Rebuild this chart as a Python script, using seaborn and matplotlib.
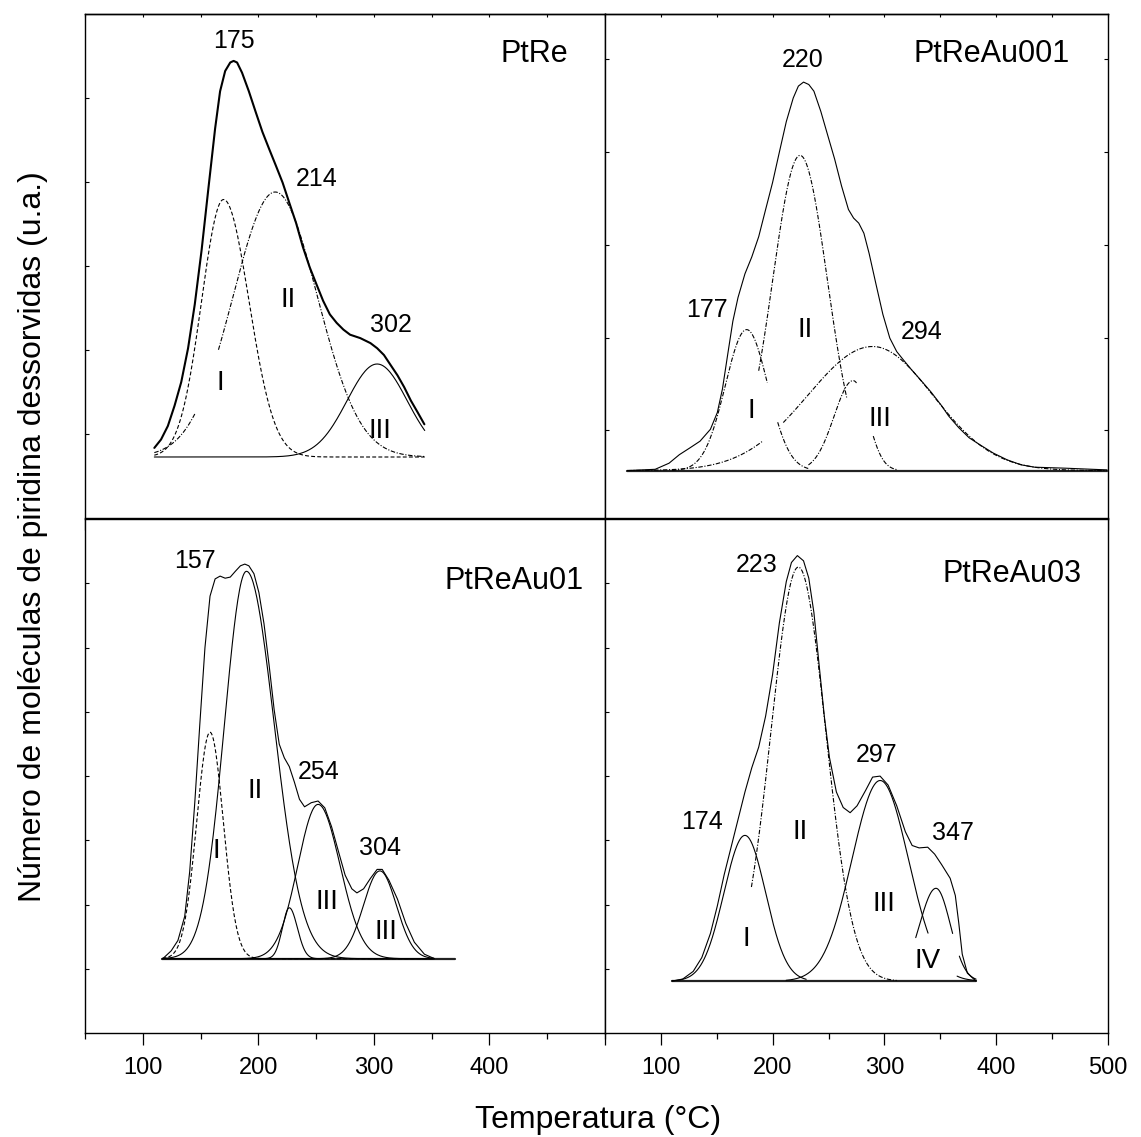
import numpy as np
import matplotlib
matplotlib.use("Agg")
import matplotlib.pyplot as plt
import seaborn as sns
from matplotlib.ticker import FixedLocator

# ---------------- data (temperature in °C, signal in arbitrary units) ----------------
temp_major_ticks = [100, 200, 300, 400, 500]
temp_minor_ticks = [50, 150, 250, 350, 450]
left_tick_labels = ["100", "200", "300", "400", ""]
right_tick_labels = ["100", "200", "300", "400", "500"]

# PtRe
ptre_temp = [110.0, 115.8, 121.7, 127.5, 133.3, 139.2, 145.0, 150.9, 156.7, 162.6, 166.9,
             171.3, 175.7, 178.6, 181.6, 185.9, 191.8, 197.6, 203.5, 209.3, 215.2, 221.0,
             226.8, 232.7, 238.5, 244.4, 250.2, 256.1, 261.9, 267.8, 273.6, 279.4, 288.2,
             297.0, 302.8, 308.7, 314.5, 320.4, 326.2, 332.0, 337.9, 343.7]
ptre_signal = [9.1, 17.5, 31.0, 51.3, 75.0, 108.8, 152.7, 206.8, 267.7, 328.5, 365.7,
               386.0, 394.5, 396.1, 394.5, 384.3, 365.7, 345.4, 325.2, 308.2, 291.3, 274.4,
               254.2, 233.9, 210.2, 189.9, 173.0, 156.1, 142.6, 134.1, 127.4, 122.3, 118.9,
               113.9, 108.8, 102.0, 91.9, 81.7, 69.9, 56.4, 44.6, 32.7]
ptre_peak_center = [169.9, 214.6, 302.8]
ptre_peak_height = [257.5, 265.0, 93.0]
ptre_peak_sigma_left = [19.0, 36.5, 26.0]
ptre_peak_sigma_right = [22.0, 36.5, 26.0]
ptre_peak_span = [[(110, 344)], [(110, 145), (165.5, 344)], [(110, 344)]]

# PtReAu001
au001_temp = [70.2, 94.9, 107.3, 116.5, 125.8, 135.0, 144.3, 150.5, 155.1, 159.7, 164.4,
              169.0, 175.2, 181.3, 187.5, 193.7, 199.9, 206.0, 212.2, 218.4, 223.0, 227.6,
              232.3, 236.9, 243.1, 249.2, 255.4, 261.6, 267.8, 272.4, 277.0, 281.6, 286.3,
              292.4, 298.6, 304.8, 311.0, 317.1, 323.3, 332.6, 341.8, 351.1, 357.3, 366.5,
              375.8, 385.0, 397.4, 409.7, 422.1, 434.4, 462.2, 499.2]
au001_signal = [0.0, 1.3, 7.4, 15.9, 22.6, 29.4, 41.3, 58.1, 81.8, 115.6, 149.5,
                173.1, 196.8, 213.6, 233.9, 261.1, 288.0, 318.5, 349.0, 372.6, 384.5, 388.5,
                386.1, 379.4, 359.1, 335.5, 311.7, 284.7, 261.1, 252.5, 247.5, 237.4, 217.1,
                186.6, 156.2, 132.5, 119.0, 110.5, 102.1, 90.3, 78.4, 64.9, 54.8, 42.9,
                32.8, 26.1, 17.5, 10.8, 5.8, 3.4, 2.4, 0.7]
au001_peak_center = [176.7, 224.5, 289.4, 272.0]
au001_peak_height = [141.0, 315.2, 124.1, 90.0]
au001_peak_sigma_left = [19.0, 24.4, 58.0, 17.0]
au001_peak_sigma_right = [19.0, 24.4, 54.0, 13.0]
au001_peak_span = [[(110, 195.2), (204.5, 232)], [(187.5, 266.2)],
                   [(70, 191.6), (209.5, 499)], [(232, 275), (290, 312)]]
au001_baseline_span = [70, 499]

# PtReAu01
au01_temp = [117.3, 124.6, 130.4, 136.3, 140.6, 145.0, 149.4, 153.8, 158.2, 162.6, 166.9,
             171.3, 175.7, 180.1, 184.5, 188.3, 191.8, 196.2, 200.5, 204.9, 209.3, 213.7,
             218.1, 222.5, 226.8, 231.2, 235.6, 240.0, 245.8, 251.7, 257.5, 263.4, 269.2,
             275.1, 280.9, 285.3, 291.1, 297.0, 302.8, 307.2, 313.0, 320.4, 327.6, 335.0,
             343.7, 352.5]
au01_signal = [0.0, 7.9, 18.2, 42.4, 87.1, 156.0, 235.2, 311.0, 362.6, 379.8, 382.6,
               380.5, 381.6, 387.4, 392.9, 394.6, 392.9, 385.0, 366.1, 335.0, 293.8, 248.9,
               214.5, 200.8, 192.1, 176.6, 159.4, 151.9, 156.0, 157.7, 150.9, 131.9, 107.8,
               83.6, 69.9, 65.8, 69.9, 80.3, 89.3, 89.3, 78.5, 59.6, 35.4, 16.5,
               4.5, 0.0]
au01_peak_center = [158.2, 189.7, 226.8, 251.7, 305.2]
au01_peak_height = [226.5, 387.4, 50.9, 154.3, 87.8]
au01_peak_sigma_left = [11.5, 19.0, 6.0, 17.5, 14.3]
au01_peak_sigma_right = [11.5, 24.0, 7.0, 19.0, 14.3]
au01_peak_span = [[(117, 352)], [(117, 352)], [(200, 252)], [(117, 352)], [(117, 352)]]
au01_baseline_span = [117, 370]

# PtReAu03
au03_temp = [110.3, 119.6, 128.9, 136.6, 144.3, 150.5, 156.6, 162.8, 169.0, 175.2, 181.3,
             187.5, 193.7, 199.9, 206.0, 212.2, 216.8, 222.1, 227.6, 232.3, 236.9, 241.5,
             246.2, 250.8, 257.0, 263.1, 269.3, 275.5, 283.2, 289.4, 296.1, 303.3, 311.0,
             318.7, 324.8, 331.0, 338.7, 344.9, 351.1, 358.8, 363.4, 366.5, 369.6, 374.2,
             381.9]
au03_signal = [0.0, 2.1, 9.7, 23.5, 47.6, 75.2, 106.3, 133.9, 161.5, 189.1, 213.3,
               234.0, 265.0, 306.4, 358.2, 399.6, 418.6, 425.5, 420.3, 403.0, 368.5, 316.8,
               265.0, 223.6, 189.1, 173.6, 168.4, 175.3, 190.8, 204.0, 205.0, 196.0, 175.3,
               149.4, 135.6, 133.2, 133.9, 127.0, 116.6, 102.8, 85.6, 58.0, 26.9, 7.9,
               0.0]
au03_peak_center = [175.2, 223.0, 296.2, 346.1]
au03_peak_height = [145.7, 414.0, 200.6, 92.8]
au03_peak_sigma_left = [18.8, 24.4, 25.3, 14.7]
au03_peak_sigma_right = [18.5, 24.4, 25.3, 12.9]
au03_peak_span = [[(110, 230)], [(181, 311)], [(212, 339), (365, 382)], [(328, 361), (367, 382)]]
au03_baseline_span = [110, 382]

# annotations: (text, temperature, signal)
ptre_notes = [("175", 178.6, 409.5), ("214", 250.2, 270.9), ("302", 315.1, 125.5)]
ptre_roman = [("I", 166.9, 66.5), ("II", 225.4, 150.0), ("III", 305.2, 19.1)]
au001_notes = [("220", 226.8, 403.7), ("177", 141.2, 153.7), ("294", 332.9, 131.7)]
au001_roman = [("II", 229.2, 133.8), ("I", 180.7, 52.3), ("III", 296.1, 44.6)]
au01_notes = [("157", 145.3, 391.2), ("254", 252.3, 179.4), ("304", 304.9, 104.0)]
au01_roman = [("I", 163.4, 101.0), ("II", 197.6, 160.6), ("III", 259.3, 49.4), ("III", 310.7, 19.8)]
au03_notes = [("223", 185.6, 409.1), ("174", 136.9, 152.2), ("297", 293.1, 219.0), ("347", 361.0, 141.5)]
au03_roman = [("II", 224.5, 142.3), ("I", 176.7, 35.6), ("III", 299.5, 70.0), ("IV", 338.7, 13.6)]

sample_names = ["PtRe", "PtReAu001", "PtReAu01", "PtReAu03"]
sample_name_pos = [(439.0, 394.7), (395.8, 408.9), (421.2, 369.6), (414.0, 399.5)]

# ---------------- style ----------------
sns.set_theme(style="white", rc={
    "axes.edgecolor": "black", "axes.linewidth": 1.0, "text.color": "black",
    "xtick.color": "black", "ytick.color": "black", "axes.labelcolor": "black",
})
plt.rcParams["font.family"] = ["Liberation Sans", "DejaVu Sans"]

W, H = 1141, 1137
fig = plt.figure(figsize=(W / 100, H / 100), dpi=100)


def box(x0, y0, x1, y1):
    return [x0 / W, 1 - y1 / H, (x1 - x0) / W, (y1 - y0) / H]


panels = [
    dict(rect=box(85, 14, 605, 518), ylim=(-61, 443), temp=ptre_temp, signal=ptre_signal,
         c=ptre_peak_center, h=ptre_peak_height, sl=ptre_peak_sigma_left, sr=ptre_peak_sigma_right,
         span=ptre_peak_span, styles=["dashed", "dashdot", "solid"], env_lw=1.5,
         baseline=None, notes=ptre_notes, roman=ptre_roman, row="top", col="left",
         yfrac=[k / 6 for k in range(1, 6)], yright=False),
    dict(rect=box(605, 14, 1108, 518), ylim=(-47.4, 456.6), temp=au001_temp, signal=au001_signal,
         c=au001_peak_center, h=au001_peak_height, sl=au001_peak_sigma_left, sr=au001_peak_sigma_right,
         span=au001_peak_span, styles=["dashdot"] * 4, env_lw=0.8,
         baseline=au001_baseline_span, notes=au001_notes, roman=au001_roman, row="top", col="right",
         yfrac=[0.09 + 0.184 * k for k in range(5)], yright=True),
    dict(rect=box(85, 519, 605, 1033), ylim=(-74.3, 439.7), temp=au01_temp, signal=au01_signal,
         c=au01_peak_center, h=au01_peak_height, sl=au01_peak_sigma_left, sr=au01_peak_sigma_right,
         span=au01_peak_span, styles=["dashed", "solid", "solid", "solid", "solid"], env_lw=0.8,
         baseline=au01_baseline_span, notes=au01_notes, roman=au01_roman, row="bottom", col="left",
         yfrac=[k / 8 for k in range(1, 8)], yright=False),
    dict(rect=box(605, 519, 1108, 1033), ylim=(-51.9, 462.1), temp=au03_temp, signal=au03_signal,
         c=au03_peak_center, h=au03_peak_height, sl=au03_peak_sigma_left, sr=au03_peak_sigma_right,
         span=au03_peak_span, styles=["solid", "dashdot", "solid", "solid"], env_lw=0.8,
         baseline=au03_baseline_span, notes=au03_notes, roman=au03_roman, row="bottom", col="right",
         yfrac=[k / 8 for k in range(1, 8)], yright=False),
]

DASHES = {"dashed": [3.5, 2.0], "dashdot": [4.0, 1.5, 1.0, 1.5]}

for i, p in enumerate(panels):
    ax = fig.add_axes(p["rect"])
    ax.set_xlim(50, 500)
    ax.set_ylim(*p["ylim"])

    # baseline
    if p["baseline"] is not None:
        sns.lineplot(x=p["baseline"], y=[0, 0], ax=ax, estimator=None, sort=False,
                     color="#222222", linewidth=1.6)

    # deconvoluted components
    for c, h, sl, sr, segs, st in zip(p["c"], p["h"], p["sl"], p["sr"], p["span"], p["styles"]):
        for lo, hi in segs:
            t = np.linspace(lo, hi, 300)
            s = np.where(t < c, sl, sr)
            y = h * np.exp(-0.5 * ((t - c) / s) ** 2)
            sns.lineplot(x=t, y=y, ax=ax, estimator=None, sort=False,
                         color="black", linewidth=0.8)
            if st in DASHES:
                ax.lines[-1].set_dashes(DASHES[st])

    # measured profile
    sns.lineplot(x=p["temp"], y=p["signal"], ax=ax, estimator=None, sort=False,
                 color="black", linewidth=p["env_lw"])

    # annotations
    for txt, tx, ty in p["notes"]:
        ax.text(tx, ty, txt, ha="center", va="baseline", fontsize=18)
    for txt, tx, ty in p["roman"]:
        ax.text(tx, ty, txt, ha="center", va="baseline", fontsize=20)
    nx, ny = sample_name_pos[i]
    ax.text(nx, ny, sample_names[i], ha="center", va="baseline", fontsize=22)

    ax.set_xlabel("")
    ax.set_ylabel("")

    # x ticks
    ax.xaxis.set_major_locator(FixedLocator(temp_major_ticks))
    ax.xaxis.set_minor_locator(FixedLocator(temp_minor_ticks))
    if p["row"] == "bottom":
        ax.set_xticklabels(left_tick_labels if p["col"] == "left" else right_tick_labels)
        ax.tick_params(axis="x", which="major", direction="out", length=8.4, width=0.9,
                       labelsize=17, pad=9, bottom=True, top=False)
        ax.tick_params(axis="x", which="minor", direction="out", length=4.1, width=0.9,
                       bottom=True, top=False)
    else:
        ax.tick_params(axis="x", which="both", direction="out", length=8.6, width=0.9,
                       labelbottom=False, bottom=True, top=False)
        sec = ax.secondary_xaxis("top")
        sec.xaxis.set_major_locator(FixedLocator(temp_major_ticks + temp_minor_ticks))
        sec.tick_params(axis="x", which="both", direction="in", length=2.4, width=0.8,
                        labeltop=False, labelbottom=False)
        sec.spines["top"].set_linewidth(1.0)

    # y ticks (no labels)
    ylo, yhi = p["ylim"]
    ax.set_yticks([yhi - f * (yhi - ylo) for f in p["yfrac"]])
    ax.tick_params(axis="y", which="major", direction="in", length=2.8, width=0.8,
                   labelleft=False, labelright=False, left=True, right=p["yright"])

    for sp in ax.spines.values():
        sp.set_color("black")
        sp.set_linewidth(1.0)

fig.text(598 / W, 1 - 1120 / H, "Temperatura (°C)", ha="center", va="center", fontsize=23)
fig.text(33 / W, 1 - 537 / H, "Número de moléculas de piridina dessorvidas (u.a.)",
         rotation=90, ha="center", va="center", fontsize=23)

fig.savefig("out.png", dpi=100)
